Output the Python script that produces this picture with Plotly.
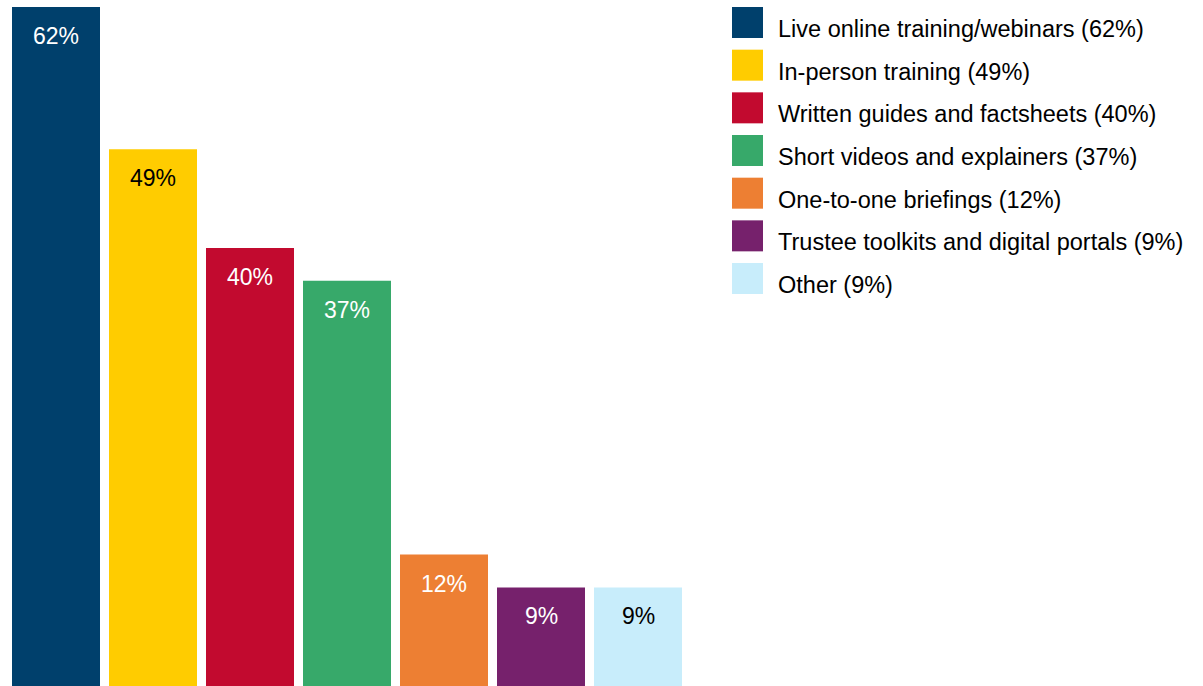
import plotly.graph_objects as go

categories = [
    "Live online training/webinars",
    "In-person training",
    "Written guides and factsheets",
    "Short videos and explainers",
    "One-to-one briefings",
    "Trustee toolkits and digital portals",
    "Other",
]
values = [62, 49, 40, 37, 12, 9, 9]

colors = ["#00406C", "#FFCC00", "#C20A2F", "#37A96A", "#ED7F33", "#76216C", "#C8EDFB"]
label_colors = ["white", "black", "white", "white", "white", "white", "black"]

W, H = 1203, 686
FONT = "Liberation Sans, Arial, sans-serif"

fig = go.Figure()
for cat, val, col in zip(categories, values, colors):
    fig.add_trace(go.Bar(x=[cat], y=[val], marker=dict(color=col, line=dict(width=0)),
                         name=cat, showlegend=False, hoverinfo="skip"))

# value labels near the top of each bar
for cat, val, tc in zip(categories, values, label_colors):
    fig.add_annotation(x=cat, y=val, xref="x", yref="y", text=f"{val}%", showarrow=False,
                       yanchor="middle", yshift=-29, font=dict(family=FONT, size=23, color=tc))

# legend drawn by hand (large square keys)
pitch = 42.67
for i, (cat, val, col) in enumerate(zip(categories, values, colors)):
    top = 7 + pitch * i
    fig.add_shape(type="rect", xref="paper", yref="paper",
                  x0=732 / W, x1=763 / W, y0=1 - (top + 31) / H, y1=1 - top / H,
                  fillcolor=col, line=dict(width=0))
    fig.add_annotation(xref="paper", yref="paper", x=776 / W, y=1 - (top + 22) / H,
                       xanchor="left", yanchor="middle", showarrow=False,
                       text=f"{cat} ({val}%)", font=dict(family=FONT, size=23.5, color="black"))

fig.update_layout(
    width=W, height=H,
    margin=dict(l=0, r=0, t=0, b=0),
    paper_bgcolor="white", plot_bgcolor="white",
    barmode="overlay", bargap=9 / 97,
    xaxis=dict(domain=[7.5 / W, 686.5 / W], visible=False, range=[-0.5, 6.5]),
    yaxis=dict(domain=[0, 679 / H], visible=False, range=[0, 62]),
)

fig.write_html("out.html", config={"displayModeBar": False},
               post_script="document.body.style.margin='0px';")
